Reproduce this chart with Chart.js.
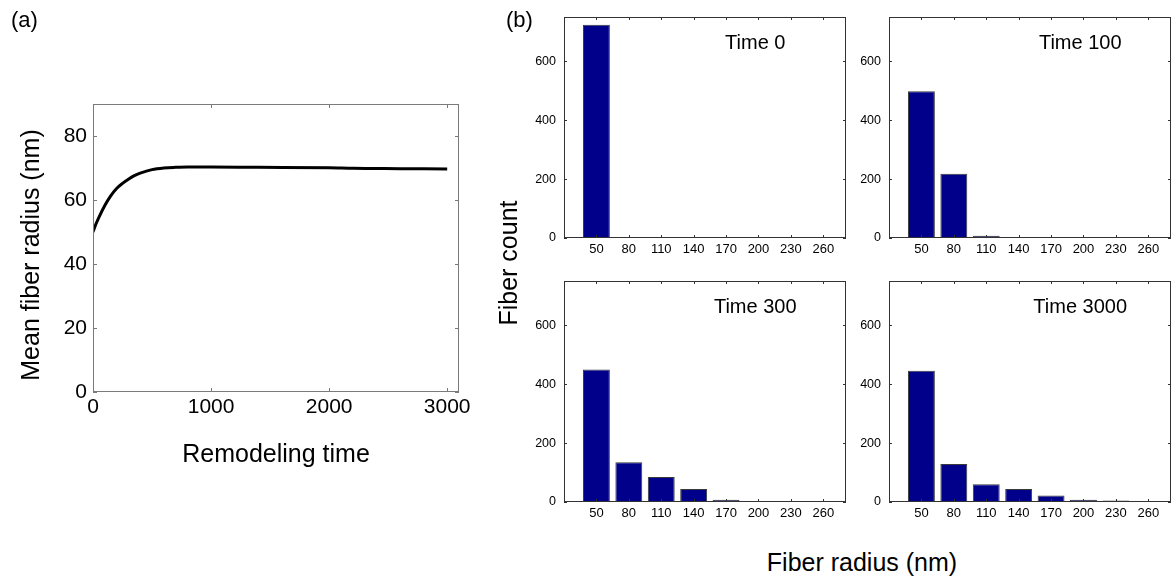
<!DOCTYPE html>
<html>
<head>
<meta charset="utf-8">
<script src="https://cdn.jsdelivr.net/npm/chart.js@4.4.1/dist/chart.umd.min.js"></script>
<style>
  body { margin: 0; background: #fff; }
  #fig { position: relative; width: 1176px; height: 584px; overflow: hidden;
         font-family: 'Liberation Sans', Arial, sans-serif; color: #000; }
  #fig canvas { position: absolute; }
  .lbl { position: absolute; white-space: nowrap; line-height: 1; }
</style>
</head>
<body>
<div id="fig">
  <canvas id="meanChart" width="480" height="480" style="left:0;top:0"></canvas>
  <canvas id="hist0" width="340" height="270" style="left:520px;top:0"></canvas>
  <canvas id="hist1" width="331" height="270" style="left:845px;top:0"></canvas>
  <canvas id="hist2" width="340" height="270" style="left:520px;top:264px"></canvas>
  <canvas id="hist3" width="331" height="270" style="left:845px;top:264px"></canvas>

  <div class="lbl" style="left:11px;top:9px;font-size:22px">(a)</div>
  <div class="lbl" style="left:506px;top:9px;font-size:22px">(b)</div>
  <div class="lbl" style="left:30px;top:255px;font-size:25px;transform:translate(-50%,-50%) rotate(-90deg)">Mean fiber radius (nm)</div>
  <div class="lbl" style="left:508px;top:263px;font-size:25px;transform:translate(-50%,-50%) rotate(-90deg)">Fiber count</div>
  <div class="lbl" style="left:862px;top:562px;font-size:25px;transform:translate(-50%,-50%)">Fiber radius (nm)</div>
</div>

<script>
// (a) mean fiber radius over remodeling time
const remodelTime = [0, 25, 50, 100, 150, 200, 250, 300, 350, 400, 500, 600, 700, 800, 1000, 1400, 2000, 2200, 2600, 3000];
const meanRadius = [50, 52.5, 54.6, 58.3, 61.3, 63.6, 65.2, 66.5, 67.6, 68.4, 69.5, 70.0, 70.2, 70.3, 70.3, 70.2, 70.1, 69.9, 69.8, 69.7];
const timeTicks = [0, 1000, 2000, 3000];
const radiusTicks = [0, 20, 40, 60, 80];

// (b) fiber radius histograms
const radiusBins = [50, 80, 110, 140, 170, 200, 230, 260];
const countTicks = [0, 200, 400, 600];
const panelTimes = ['Time 0', 'Time 100', 'Time 300', 'Time 3000'];
const countsT0 = [724, 0, 0, 0, 0, 0, 0, 0];
const countsT100 = [498, 218, 8, 0, 0, 0, 0, 0];
const countsT300 = [450, 135, 85, 44, 8, 0, 0, 0];
const countsT3000 = [445, 129, 60, 44, 22, 8, 5, 2];

const FONT = "'Liberation Sans', Arial, sans-serif";
Chart.defaults.font.family = FONT;
Chart.defaults.color = '#000';

// matlab style frame: full box with inward tick marks on all sides
const matlabBox = {
  id: 'matlabBox',
  afterDraw(chart, args, opts) {
    const { ctx, chartArea: { left, right, top, bottom }, scales: { x, y } } = chart;
    const len = opts.tickLen || 4;
    ctx.save();
    ctx.strokeStyle = opts.color || '#555';
    ctx.lineWidth = 1;
    ctx.strokeRect(left + 0.5, top + 0.5, right - left - 1, bottom - top - 1);
    ctx.beginPath();
    x.ticks.forEach(t => {
      const px = Math.round(x.getPixelForValue(t.value)) + 0.5;
      ctx.moveTo(px, bottom); ctx.lineTo(px, bottom - len);
      ctx.moveTo(px, top); ctx.lineTo(px, top + len);
    });
    y.ticks.forEach(t => {
      const py = Math.round(y.getPixelForValue(t.value)) + 0.5;
      ctx.moveTo(left, py); ctx.lineTo(left + len, py);
      ctx.moveTo(right, py); ctx.lineTo(right - len, py);
    });
    ctx.stroke();
    ctx.restore();
  }
};

// "Time N" caption inside each histogram
const panelCaption = {
  id: 'panelCaption',
  afterDatasetsDraw(chart, args, opts) {
    if (!opts.text) return;
    const { ctx, scales: { x, y } } = chart;
    ctx.save();
    ctx.font = `20px ${FONT}`;
    ctx.fillStyle = '#000';
    ctx.textAlign = 'center';
    ctx.textBaseline = 'middle';
    ctx.fillText(opts.text, x.getPixelForValue(opts.x), y.getPixelForValue(opts.y));
    ctx.restore();
  }
};

new Chart(document.getElementById('meanChart'), {
  type: 'line',
  data: {
    datasets: [{
      data: remodelTime.map((t, i) => ({ x: t, y: meanRadius[i] })),
      borderColor: '#000',
      borderWidth: 3,
      pointRadius: 0,
      cubicInterpolationMode: 'monotone',
      fill: false
    }]
  },
  options: {
    responsive: false,
    animation: false,
    events: [],
    layout: { padding: { top: 104, right: 21, left: 0, bottom: 0 } },
    plugins: {
      legend: { display: false },
      tooltip: { enabled: false },
      matlabBox: { color: '#7a7a7a', tickLen: 4 }
    },
    scales: {
      x: {
        type: 'linear',
        min: 0,
        max: 3100,
        afterBuildTicks: axis => { axis.ticks = timeTicks.map(v => ({ value: v })); },
        afterFit: axis => { axis.height = 88; },
        grid: { display: false, drawTicks: false },
        border: { display: false },
        ticks: { font: { size: 21 }, padding: 3, maxRotation: 0, autoSkip: false, callback: v => String(v) },
        title: { display: true, text: 'Remodeling time', font: { size: 25 }, padding: { bottom: 10 } }
      },
      y: {
        min: 0,
        max: 90,
        afterBuildTicks: axis => { axis.ticks = radiusTicks.map(v => ({ value: v })); },
        afterFit: axis => { axis.width = 93; },
        grid: { display: false, drawTicks: false },
        border: { display: false },
        ticks: { font: { size: 21 }, padding: 6, callback: v => String(v) }
      }
    }
  },
  plugins: [matlabBox]
});

function makeHist(canvasId, counts, caption, padRight) {
  return new Chart(document.getElementById(canvasId), {
    type: 'bar',
    data: {
      datasets: [{
        data: radiusBins.map((r, i) => ({ x: r, y: counts[i] })),
        backgroundColor: '#00008a',
        borderColor: '#3a3a3a',
        borderWidth: 1,
        categoryPercentage: 1,
        barPercentage: 0.83
      }]
    },
    options: {
      responsive: false,
      animation: false,
      events: [],
      layout: { padding: { top: 17, right: padRight, left: 0, bottom: 0 } },
      plugins: {
        legend: { display: false },
        tooltip: { enabled: false },
        matlabBox: { color: '#333', tickLen: 3 },
        panelCaption: { text: caption, x: 197, y: 660 }
      },
      scales: {
        x: {
          type: 'linear',
          min: 20,
          max: 281,
          offset: false,
          afterBuildTicks: axis => { axis.ticks = radiusBins.map(v => ({ value: v })); },
          afterFit: axis => { axis.height = 32; },
          grid: { display: false, drawTicks: false },
          border: { display: false },
          ticks: { font: { size: 13 }, padding: 4, maxRotation: 0, autoSkip: false, callback: v => String(v) }
        },
        y: {
          min: 0,
          max: 750,
          afterBuildTicks: axis => { axis.ticks = countTicks.map(v => ({ value: v })); },
          afterFit: axis => { axis.width = 44; },
          grid: { display: false, drawTicks: false },
          border: { display: false },
          ticks: { font: { size: 12.5 }, padding: 8, callback: v => String(v) }
        }
      }
    },
    plugins: [matlabBox, panelCaption]
  });
}

makeHist('hist0', countsT0, panelTimes[0], 14);
makeHist('hist1', countsT100, panelTimes[1], 5);
makeHist('hist2', countsT300, panelTimes[2], 14);
makeHist('hist3', countsT3000, panelTimes[3], 5);
</script>
</body>
</html>
